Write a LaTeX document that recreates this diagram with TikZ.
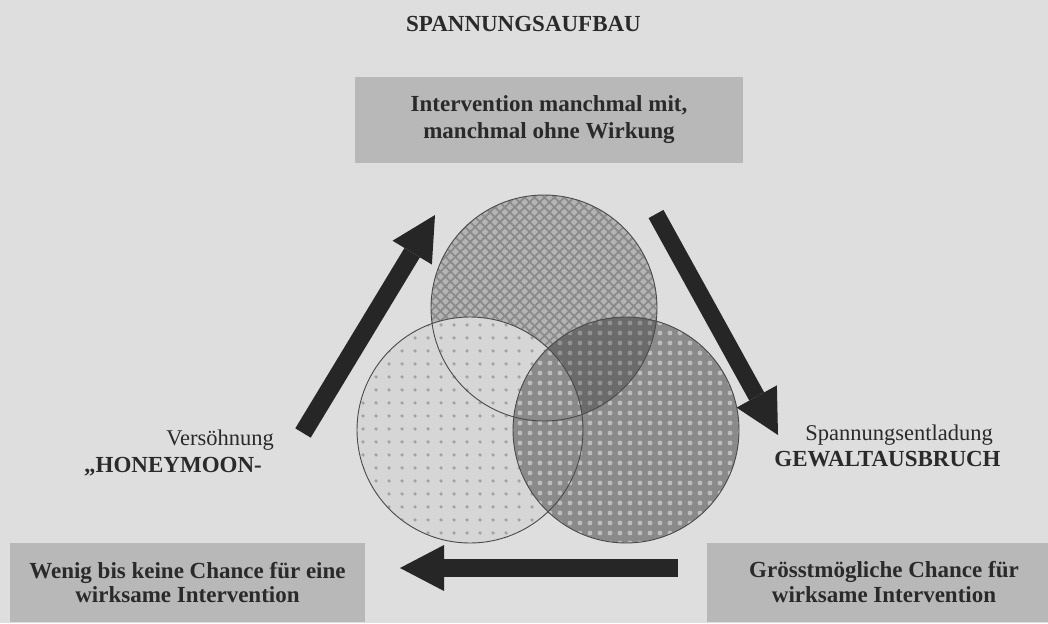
\documentclass[tikz,border=0pt]{standalone}
\usepackage{fontspec}
\setmainfont{Liberation Serif}
\usetikzlibrary{arrows.meta,patterns.meta}
\definecolor{bg}{HTML}{DEDEDE}
\definecolor{boxc}{HTML}{B8B8B8}
\definecolor{textc}{HTML}{2A2A2A}
\definecolor{arrowc}{HTML}{262626}
\definecolor{topc}{HTML}{B4B4B4}
\definecolor{topline}{HTML}{8A8A8A}
\definecolor{leftc}{HTML}{D6D6D6}
\definecolor{leftdot}{HTML}{A2A2A2}
\definecolor{rightc}{HTML}{8A8A8A}
\definecolor{rightdot}{HTML}{BDBDBD}
\definecolor{circline}{HTML}{4A4A4A}
\tikzset{
  boldtxt/.style={font=\fontsize{23}{27}\selectfont\bfseries, text=textc},
  regtxt/.style={font=\fontsize{22.5}{27}\selectfont, text=textc},
  greybox/.style={fill=boxc, inner sep=0pt, align=center, text=textc},
  bigarrow/.style={draw=arrowc, line width=18pt,
    -{Triangle[length=44pt,width=46pt,line width=0pt]}},
  ring/.style={draw=circline, line width=0.9pt}
}
\begin{document}
\begin{tikzpicture}[x=1pt,y=-1pt]
\useasboundingbox (0,0) rectangle (1048,623);
\fill[bg] (0,0) rectangle (1048,623);

% title
\node[boldtxt, anchor=base] (title) at (523.5,32) {SPANNUNGSAUFBAU};

% boxes
\node[greybox, minimum width=388pt, minimum height=86pt,
      font=\fontsize{23}{27}\selectfont\bfseries] (topbox) at (549,120)
  {Intervention manchmal mit,\\manchmal ohne Wirkung};
\node[greybox, minimum width=355pt, minimum height=79pt,
      font=\fontsize{23}{24}\selectfont\bfseries] (leftbox) at (187.5,582.5)
  {Wenig bis keine Chance für eine\\wirksame Intervention};
\node[greybox, minimum width=354pt, minimum height=79pt,
      font=\fontsize{23}{25}\selectfont\bfseries] (rightbox) at (884,582.5)
  {Grösstmögliche Chance für\\wirksame Intervention};

% circles
\coordinate (ct) at (544,308);
\coordinate (cl) at (470,430);
\coordinate (cr) at (626,430);

\fill[topc] (ct) circle[radius=113pt];
\fill[pattern={Hatch[angle=45,distance=7pt,line width=1.8pt]}, pattern color=topline]
  (ct) circle[radius=113pt];
\fill[leftc] (cl) circle[radius=113pt];
\fill[pattern={Dots[distance=13pt,radius=2pt]}, pattern color=leftdot]
  (cl) circle[radius=113pt];
\fill[rightc] (cr) circle[radius=113pt];
\fill[pattern={Dots[distance=10pt,radius=2.4pt]}, pattern color=rightdot]
  (cr) circle[radius=113pt];
\begin{scope}
  \clip (ct) circle[radius=113pt];
  \clip (cr) circle[radius=113pt];
  \fill[black, fill opacity=0.22, even odd rule]
    (300,150) rectangle (800,560) (cl) circle[radius=113pt];
\end{scope}
\draw[ring] (ct) circle[radius=113pt];
\draw[ring] (cl) circle[radius=113pt];
\draw[ring] (cr) circle[radius=113pt];

% labels
\node[regtxt, anchor=base] (vers) at (220,445) {Versöhnung};
\node[boldtxt, anchor=base] (honey) at (173,472) {„HONEYMOON-};
\node[regtxt, anchor=base] (spann) at (899,440) {Spannungsentladung};
\node[boldtxt, anchor=base] (gewalt) at (887.5,466) {GEWALTAUSBRUCH};

% arrows
\coordinate (la-s) at (303,433);
\coordinate (la-e) at (435,215);
\coordinate (ra-s) at (656,214);
\coordinate (ra-e) at (778,435);
\coordinate (ba-s) at (678,568);
\coordinate (ba-e) at (400,568);
\draw[bigarrow] (la-s) -- (la-e);
\draw[bigarrow, line width=17pt] (ra-s) -- (ra-e);
\draw[bigarrow] (ba-s) -- (ba-e);
\end{tikzpicture}
\end{document}
